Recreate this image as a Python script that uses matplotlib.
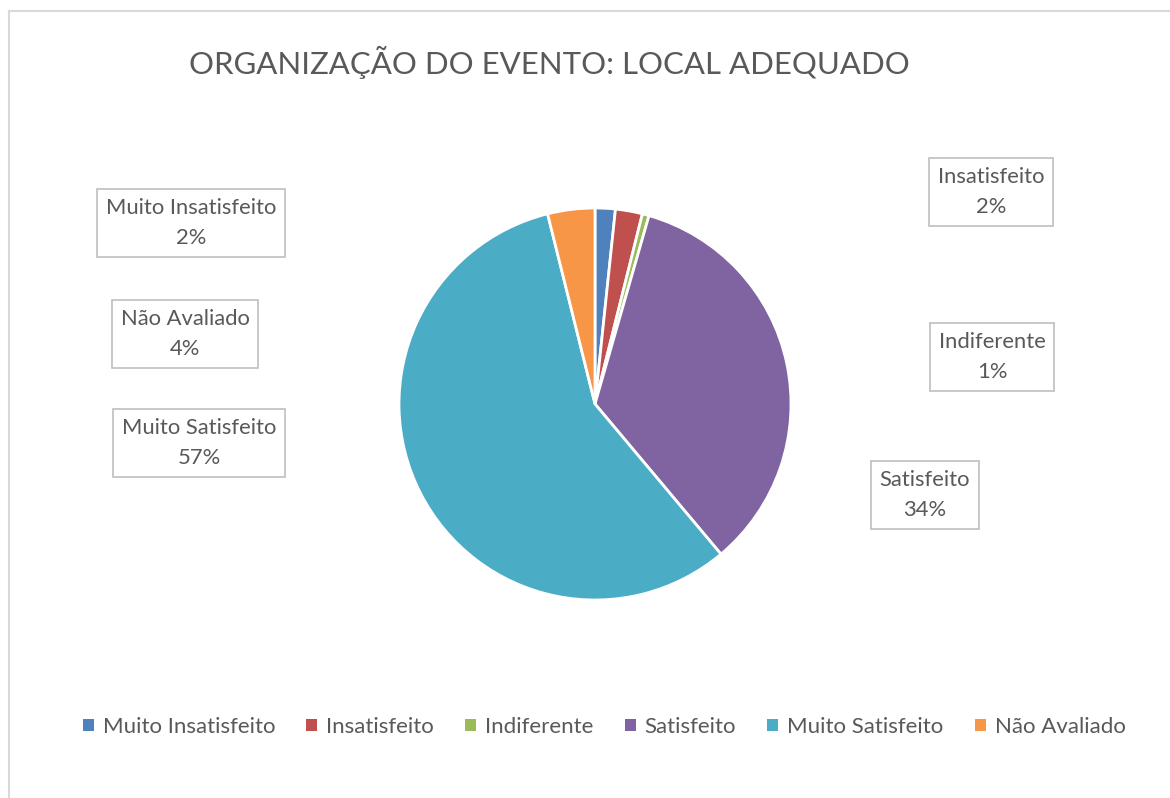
"""Pie chart: Organização do evento - local adequado."""

import matplotlib

matplotlib.use("Agg")
import matplotlib.pyplot as plt
from matplotlib.lines import Line2D
from matplotlib.patches import Patch

plt.rcParams["font.family"] = ["Lato", "DejaVu Sans"]

TITLE = "ORGANIZAÇÃO DO EVENTO: LOCAL ADEQUADO"
categories = ["Muito Insatisfeito", "Insatisfeito", "Indiferente",
              "Satisfeito", "Muito Satisfeito", "Não Avaliado"]
counts = [3, 4, 1, 62, 103, 7]
colors = ["#4F81BD", "#C0504D", "#9BBB59", "#8064A2", "#4BACC6", "#F79646"]

# label box centres in figure pixels (x, y from top)
label_pos = {
    "Muito Insatisfeito": (191, 223),
    "Insatisfeito": (991, 192),
    "Indiferente": (992, 357),
    "Satisfeito": (925, 495),
    "Muito Satisfeito": (199, 443),
    "Não Avaliado": (185, 334),
}

W, H = 1170, 798
TEXT = "#595959"

fig = plt.figure(figsize=(W / 100, H / 100), dpi=100)

# chart area border (only top and left edges visible)
fig.add_artist(Line2D([9 / W, 9 / W], [0, 1 - 11 / H], color="#D9D9D9", lw=1.5,
                      transform=fig.transFigure))
fig.add_artist(Line2D([9 / W, 1], [1 - 11 / H, 1 - 11 / H], color="#D9D9D9", lw=1.5,
                      transform=fig.transFigure))

cx, cy, r = 595, 404, 196
ax = fig.add_axes([(cx - r) / W, (H - cy - r) / H, 2 * r / W, 2 * r / H])
ax.pie(counts, colors=colors, startangle=90, counterclock=False, radius=1.0,
       wedgeprops=dict(edgecolor="white", linewidth=2.0))
ax.set_xlim(-1, 1)
ax.set_ylim(-1, 1)
ax.axis("off")

fig.text(549 / W, 1 - 62 / H, TITLE, ha="center", va="center", fontsize=22.4,
         color=TEXT)

total = sum(counts)
for cat, n in zip(categories, counts):
    pct = int(n / total * 100 + 0.5)
    x, y = label_pos[cat]
    fig.text(x / W, 1 - y / H, f"{cat}\n{pct}%", ha="center", va="center",
             fontsize=15.8, color=TEXT, linespacing=1.6,
             bbox=dict(boxstyle="square,pad=0.4", facecolor="white",
                       edgecolor="#BFBFBF", linewidth=1.2))

handles = [Patch(facecolor=c, edgecolor="none") for c in colors]
fig.legend(handles, categories, loc="center", bbox_to_anchor=(604 / W, 1 - 727 / H),
           ncol=6, frameon=False, fontsize=16, labelcolor=TEXT,
           handlelength=0.5, handleheight=0.5, handletextpad=0.4,
           columnspacing=1.4)

fig.savefig("out.png", dpi=100)
